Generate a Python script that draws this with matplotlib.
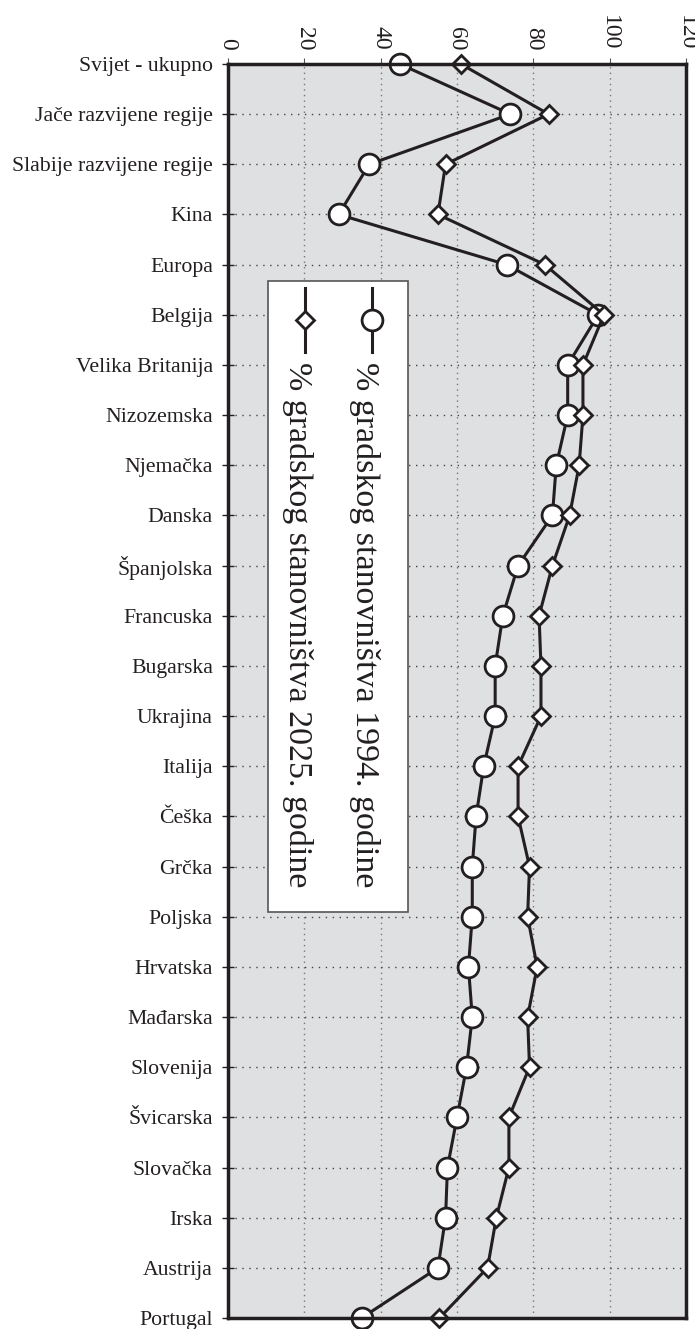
import numpy as np
import matplotlib
matplotlib.use("Agg")
import matplotlib.pyplot as plt
from matplotlib.patches import Rectangle

plt.rcParams['font.family'] = ['Liberation Serif', 'DejaVu Serif']

# podaci
zemlje = ["Svijet - ukupno", "Jače razvijene regije", "Slabije razvijene regije",
          "Kina", "Europa", "Belgija", "Velika Britanija", "Nizozemska", "Njemačka",
          "Danska", "Španjolska", "Francuska", "Bugarska", "Ukrajina", "Italija",
          "Češka", "Grčka", "Poljska", "Hrvatska", "Mađarska", "Slovenija",
          "Švicarska", "Slovačka", "Irska", "Austrija", "Portugal"]
grad_1994 = [45, 74, 37, 29, 73, 97, 89, 89, 86, 85, 76, 72, 70, 70, 67,
             65, 64, 64, 63, 64, 62.5, 60, 57.5, 57, 55, 35]
grad_2025 = [61, 84, 57, 55, 83, 98.5, 93, 93, 92, 89.5, 85, 81.5, 82, 82, 76,
             76, 79, 78.5, 81, 78.5, 79, 73.6, 73.6, 70.3, 68, 55.4]
x_ticks = [0, 20, 40, 60, 80, 100, 120]
legenda = ["% gradskog stanovništva 1994. godine",
           "% gradskog stanovništva 2025. godine"]

tamno = "#231f20"

fig = plt.figure(figsize=(6.95, 13.29), dpi=100)
ax = fig.add_axes([228/695, 1 - 1318/1329, (686-228)/695, (1318-64)/1329])
ax.set_facecolor("#dfe0e2")

y = np.arange(len(zemlje))
ax.plot(grad_1994, y, color=tamno, lw=2.2, marker='o', ms=15, mfc='white',
        mec=tamno, mew=2.0, clip_on=False, zorder=4)
ax.plot(grad_2025, y, color=tamno, lw=2.2, marker='D', ms=9, mfc='white',
        mec=tamno, mew=2.0, clip_on=False, zorder=4)

ax.set_xlim(0, 120)
ax.set_ylim(len(zemlje) - 1, 0)
ax.set_yticks(y)
ax.set_yticklabels(zemlje, fontsize=15.7, color=tamno)
ax.set_xticks(x_ticks)
ax.set_xticklabels([str(t) for t in x_ticks], rotation=-90, fontsize=17, color=tamno)
ax.xaxis.tick_top()
ax.tick_params(axis='x', direction='out', length=4, width=0.8, colors='#555555',
               labelcolor=tamno, pad=6)
ax.tick_params(axis='y', direction='inout', length=8, width=1.0, colors=tamno, pad=7)

for s in ax.spines.values():
    s.set_linewidth(2.5)
    s.set_color(tamno)
    s.set_zorder(5)

ax.grid(axis='y', color='#444444', linestyle=(0, (1, 4)), lw=1.0)
ax.grid(axis='x', color='#777777', linestyle=(0, (1, 3)), lw=1.0)
ax.set_axisbelow(True)

# legenda (zakrenuta)
ax.add_patch(Rectangle((0.0873, 0.324), 0.3057, 0.503, transform=ax.transAxes,
                       facecolor='white', edgecolor='#555555', lw=1.2, zorder=6))
lx = [0.314, 0.168]
tx = [0.298, 0.152]
mk = [('o', 15), ('D', 9)]
for i in range(2):
    ax.plot([lx[i], lx[i]], [0.821, 0.770], transform=ax.transAxes, color=tamno,
            lw=2.2, zorder=7, clip_on=False)
    ax.plot([lx[i]], [0.796], transform=ax.transAxes, marker=mk[i][0], ms=mk[i][1],
            mfc='white', mec=tamno, mew=2.0, zorder=8, clip_on=False)
    ax.text(tx[i], 0.762, legenda[i], transform=ax.transAxes, rotation=-90,
            ha='center', va='top', fontsize=24.5, color=tamno, zorder=8)

fig.savefig("out.png", dpi=100)
